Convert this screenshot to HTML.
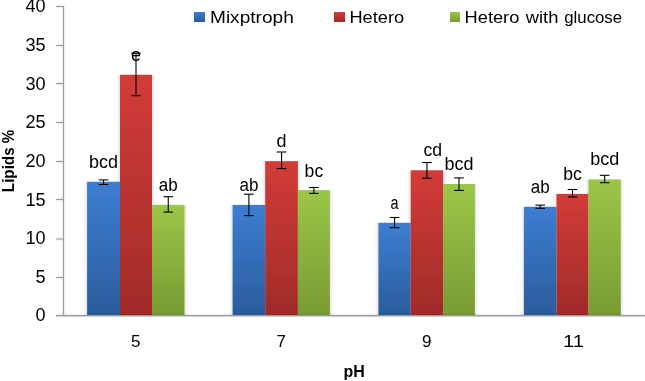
<!DOCTYPE html>
<html><head><meta charset="utf-8"><style>
html,body{margin:0;padding:0;background:#fff;}
body{width:645px;height:381px;overflow:hidden;position:relative;}
svg{position:absolute;left:0;top:0;}
text{font-family:"Liberation Sans",sans-serif;}
.t{opacity:0.999;}
</style></head><body>
<svg width="645" height="381" viewBox="0 0 645 381">
<defs>
<linearGradient id="gb" x1="0" y1="0" x2="0" y2="1"><stop offset="0" stop-color="#3c7ed2"/><stop offset="1" stop-color="#2b5c9c"/></linearGradient>
<linearGradient id="gr" x1="0" y1="0" x2="0" y2="1"><stop offset="0" stop-color="#d23c38"/><stop offset="1" stop-color="#a02b28"/></linearGradient>
<linearGradient id="gg" x1="0" y1="0" x2="0" y2="1"><stop offset="0" stop-color="#9cc648"/><stop offset="1" stop-color="#789b33"/></linearGradient>
<filter id="sh" x="-30%" y="-5%" width="160%" height="110%"><feGaussianBlur in="SourceAlpha" stdDeviation="2.2 0.4"/><feComponentTransfer><feFuncA type="linear" slope="0.22"/></feComponentTransfer><feMerge><feMergeNode/><feMergeNode in="SourceGraphic"/></feMerge></filter>
<filter id="ash" x="-5%" y="-5%" width="110%" height="110%"><feGaussianBlur in="SourceAlpha" stdDeviation="0.9"/><feComponentTransfer><feFuncA type="linear" slope="0.25"/></feComponentTransfer><feMerge><feMergeNode/><feMergeNode in="SourceGraphic"/></feMerge></filter>
</defs>

<g filter="url(#sh)">
<rect x="87.10" y="181.80" width="32.90" height="133.20" fill="url(#gb)"/>
<rect x="120.00" y="74.80" width="32.00" height="240.20" fill="url(#gr)"/>
<rect x="152.00" y="204.90" width="32.50" height="110.10" fill="url(#gg)"/>
<rect x="232.60" y="204.90" width="32.60" height="110.10" fill="url(#gb)"/>
<rect x="265.20" y="161.20" width="32.70" height="153.80" fill="url(#gr)"/>
<rect x="297.90" y="190.10" width="32.00" height="124.90" fill="url(#gg)"/>
<rect x="378.40" y="222.80" width="32.30" height="92.20" fill="url(#gb)"/>
<rect x="410.70" y="170.30" width="32.40" height="144.70" fill="url(#gr)"/>
<rect x="443.10" y="184.00" width="31.80" height="131.00" fill="url(#gg)"/>
<rect x="523.90" y="206.80" width="32.60" height="108.20" fill="url(#gb)"/>
<rect x="556.50" y="193.90" width="32.00" height="121.10" fill="url(#gr)"/>
<rect x="588.50" y="179.50" width="32.30" height="135.50" fill="url(#gg)"/>
</g>
<g fill="#9c9c9c" filter="url(#ash)">
<rect x="63" y="6" width="1" height="310"/>
<rect x="56" y="6" width="7" height="1"/>
<rect x="56" y="45" width="7" height="1"/>
<rect x="56" y="83" width="7" height="1"/>
<rect x="56" y="122" width="7" height="1"/>
<rect x="56" y="161" width="7" height="1"/>
<rect x="56" y="199" width="7" height="1"/>
<rect x="56" y="238.5" width="7" height="1"/>
<rect x="56" y="277" width="7" height="1"/>
<rect x="56" y="315" width="7" height="1"/>
<rect x="56" y="315" width="589" height="1"/>
</g>
<rect x="56" y="316" width="589" height="1" fill="#bdbdbd" opacity="0.6"/>
<g stroke="#000" stroke-width="1.1">
<line x1="103.55" y1="179.90" x2="103.55" y2="184.50"/>
<line x1="98.75" y1="179.90" x2="108.35" y2="179.90"/>
<line x1="98.75" y1="184.50" x2="108.35" y2="184.50"/>
<line x1="136.00" y1="53.20" x2="136.00" y2="95.70"/>
<line x1="131.20" y1="53.20" x2="140.80" y2="53.20"/>
<line x1="131.20" y1="95.70" x2="140.80" y2="95.70"/>
<line x1="168.25" y1="196.70" x2="168.25" y2="212.10"/>
<line x1="163.45" y1="196.70" x2="173.05" y2="196.70"/>
<line x1="163.45" y1="212.10" x2="173.05" y2="212.10"/>
<line x1="248.90" y1="194.20" x2="248.90" y2="215.60"/>
<line x1="244.10" y1="194.20" x2="253.70" y2="194.20"/>
<line x1="244.10" y1="215.60" x2="253.70" y2="215.60"/>
<line x1="281.55" y1="152.00" x2="281.55" y2="168.60"/>
<line x1="276.75" y1="152.00" x2="286.35" y2="152.00"/>
<line x1="276.75" y1="168.60" x2="286.35" y2="168.60"/>
<line x1="313.90" y1="187.50" x2="313.90" y2="193.40"/>
<line x1="309.10" y1="187.50" x2="318.70" y2="187.50"/>
<line x1="309.10" y1="193.40" x2="318.70" y2="193.40"/>
<line x1="394.55" y1="217.50" x2="394.55" y2="227.70"/>
<line x1="389.75" y1="217.50" x2="399.35" y2="217.50"/>
<line x1="389.75" y1="227.70" x2="399.35" y2="227.70"/>
<line x1="426.90" y1="162.50" x2="426.90" y2="178.20"/>
<line x1="422.10" y1="162.50" x2="431.70" y2="162.50"/>
<line x1="422.10" y1="178.20" x2="431.70" y2="178.20"/>
<line x1="459.00" y1="177.90" x2="459.00" y2="190.40"/>
<line x1="454.20" y1="177.90" x2="463.80" y2="177.90"/>
<line x1="454.20" y1="190.40" x2="463.80" y2="190.40"/>
<line x1="540.20" y1="205.10" x2="540.20" y2="208.30"/>
<line x1="535.40" y1="205.10" x2="545.00" y2="205.10"/>
<line x1="535.40" y1="208.30" x2="545.00" y2="208.30"/>
<line x1="572.50" y1="189.50" x2="572.50" y2="196.90"/>
<line x1="567.70" y1="189.50" x2="577.30" y2="189.50"/>
<line x1="567.70" y1="196.90" x2="577.30" y2="196.90"/>
<line x1="604.65" y1="175.30" x2="604.65" y2="182.70"/>
<line x1="599.85" y1="175.30" x2="609.45" y2="175.30"/>
<line x1="599.85" y1="182.70" x2="609.45" y2="182.70"/>
</g>
<g class="t" font-size="18" fill="#000" text-anchor="middle">
<text x="103.55" y="168.30" textLength="29.02" lengthAdjust="spacingAndGlyphs">bcd</text>
<text x="136.00" y="61.10" textLength="10.01" lengthAdjust="spacingAndGlyphs">e</text>
<text x="168.25" y="190.70" textLength="18.92" lengthAdjust="spacingAndGlyphs">ab</text>
<text x="248.90" y="190.70" textLength="18.92" lengthAdjust="spacingAndGlyphs">ab</text>
<text x="281.55" y="147.00" textLength="10.01" lengthAdjust="spacingAndGlyphs">d</text>
<text x="313.90" y="176.70" textLength="18.63" lengthAdjust="spacingAndGlyphs">bc</text>
<text x="394.55" y="208.60" textLength="8.01" lengthAdjust="spacingAndGlyphs">a</text>
<text x="432.75" y="156.10" textLength="18.63" lengthAdjust="spacingAndGlyphs">cd</text>
<text x="459.00" y="169.80" textLength="29.02" lengthAdjust="spacingAndGlyphs">bcd</text>
<text x="540.20" y="192.60" textLength="18.92" lengthAdjust="spacingAndGlyphs">ab</text>
<text x="572.50" y="179.70" textLength="18.63" lengthAdjust="spacingAndGlyphs">bc</text>
<text x="604.65" y="165.30" textLength="29.02" lengthAdjust="spacingAndGlyphs">bcd</text>
</g>
<g class="t" font-size="17.5" fill="#000" text-anchor="end">
<text x="45.6" y="12.40" textLength="20.15" lengthAdjust="spacingAndGlyphs">40</text>
<text x="45.6" y="51.02" textLength="20.15" lengthAdjust="spacingAndGlyphs">35</text>
<text x="45.6" y="89.65" textLength="20.15" lengthAdjust="spacingAndGlyphs">30</text>
<text x="45.6" y="128.28" textLength="20.15" lengthAdjust="spacingAndGlyphs">25</text>
<text x="45.6" y="166.90" textLength="20.15" lengthAdjust="spacingAndGlyphs">20</text>
<text x="45.6" y="205.53" textLength="20.15" lengthAdjust="spacingAndGlyphs">15</text>
<text x="45.6" y="244.15" textLength="20.15" lengthAdjust="spacingAndGlyphs">10</text>
<text x="45.6" y="282.77" textLength="10.07" lengthAdjust="spacingAndGlyphs">5</text>
<text x="45.6" y="321.40" textLength="10.07" lengthAdjust="spacingAndGlyphs">0</text>
</g>
<g class="t" font-size="17" fill="#000" text-anchor="middle">
<text x="135.75" y="347">5</text>
<text x="281.25" y="347">7</text>
<text x="426.75" y="347">9</text>
<text x="573.45" y="347" textLength="21" lengthAdjust="spacingAndGlyphs">11</text>
</g>
<text class="t" x="354.2" y="376.5" font-size="16.3" font-weight="bold" text-anchor="middle" textLength="21.3" lengthAdjust="spacingAndGlyphs">pH</text>
<text class="t" transform="translate(13.9,160.9) rotate(-90)" font-size="17" font-weight="bold" text-anchor="middle" textLength="62.5" lengthAdjust="spacingAndGlyphs">Lipids %</text>
<rect x="194" y="12" width="11" height="10" fill="url(#gb)"/>
<rect x="334" y="12" width="11" height="10" fill="url(#gr)"/>
<rect x="450" y="12" width="10" height="10" fill="url(#gg)"/>
<g class="t" font-size="16.7" fill="#000">
<text x="210.01" y="22.8" textLength="83.76" lengthAdjust="spacingAndGlyphs">Mixptroph</text>
<text x="349.48" y="22.8" textLength="54.66" lengthAdjust="spacingAndGlyphs">Hetero</text>
<text x="464.57" y="22.8" textLength="54.76" lengthAdjust="spacingAndGlyphs">Hetero</text>
<text x="525.79" y="22.8" textLength="32.64" lengthAdjust="spacingAndGlyphs">with</text>
<text x="564.28" y="22.8" textLength="57.80" lengthAdjust="spacingAndGlyphs">glucose</text>
</g>
</svg>
</body></html>
